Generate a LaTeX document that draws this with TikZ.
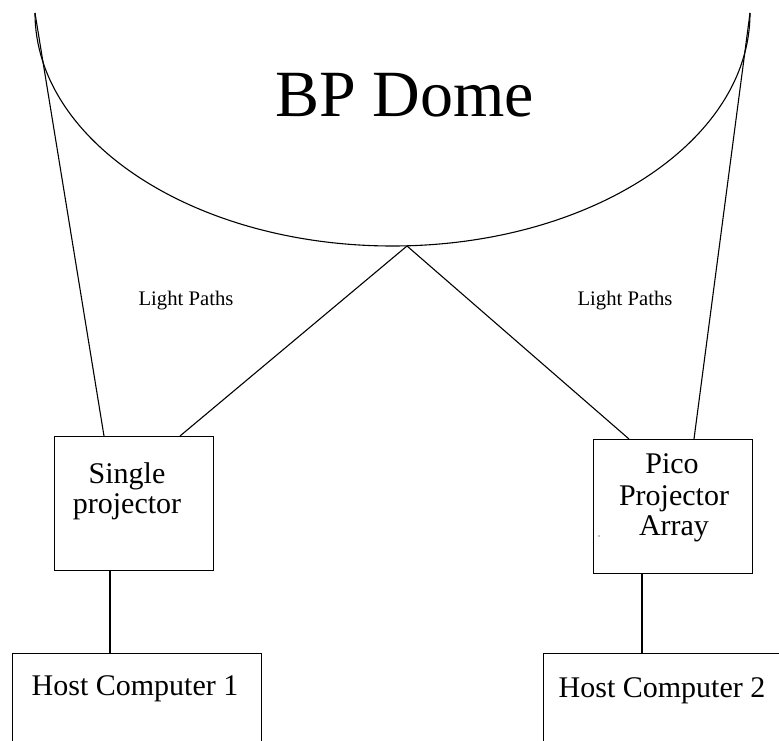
\documentclass[tikz,border=0pt]{standalone}
\usepackage{fontspec}
\setmainfont{Liberation Serif}
\usetikzlibrary{calc}
\begin{document}
\begin{tikzpicture}[x=1pt,y=-1pt,line width=1.1pt,
  box/.style={draw,rectangle,inner sep=0pt,minimum width=#1,anchor=north west},
  lbl/.style={font=\fontsize{30}{32}\selectfont,anchor=base,inner sep=0pt},
  small/.style={font=\fontsize{20.7}{24}\selectfont,anchor=base,inner sep=0pt}]
\useasboundingbox (0,0) rectangle (779,741);
\clip (0,0) rectangle (779,741);
% dome
\coordinate (tl) at (35,13);
\coordinate (tr) at (750,13);
\coordinate (vtx) at (407,246);
\draw (tl) arc[start angle=180,end angle=360,x radius=357.5,y radius=-233];
\node[font=\fontsize{66}{72}\selectfont,anchor=base,inner sep=0pt] (title) at (405,117) {BP Dome};
% boxes
\node[box=159pt,minimum height=134pt] (single) at (54,436) {};
\node[box=159pt,minimum height=134pt] (pico) at (593,439) {};
\node[box=249pt,minimum height=130pt] (host1) at (12,653) {};
\node[box=260pt,minimum height=130pt] (host2) at (543,653) {};
% texts
\node[lbl] (t1) at (127,483) {Single};
\node[lbl] (t2) at (127,513) {projector};
\node[lbl] (t3) at (672,473) {Pico};
\node[lbl] (t4) at (674,505) {Projector};
\node[lbl] (t5) at (674,535) {Array};
\node[lbl] (h1) at (135,695) {Host Computer 1};
\node[lbl] (h2) at (662,697) {Host Computer 2};
\node[small] (lp1) at (186,305) {Light Paths};
\node[small] (lp2) at (625,305) {Light Paths};
% light paths
\draw (tl) -- ($(single.north west)+(50,0)$);
\draw (vtx) -- ($(single.north west)+(126,0)$);
\draw (vtx) -- ($(pico.north west)+(36,0)$);
\draw (tr) -- ($(pico.north west)+(101,0)$);
% links
\draw ($(single.south west)+(56,0)$) -- ($(host1.north west)+(98,0)$);
\draw ($(pico.south west)+(49,0)$) -- ($(host2.north west)+(99,0)$);
\fill (599,536) circle (0.7);
\end{tikzpicture}
\end{document}
